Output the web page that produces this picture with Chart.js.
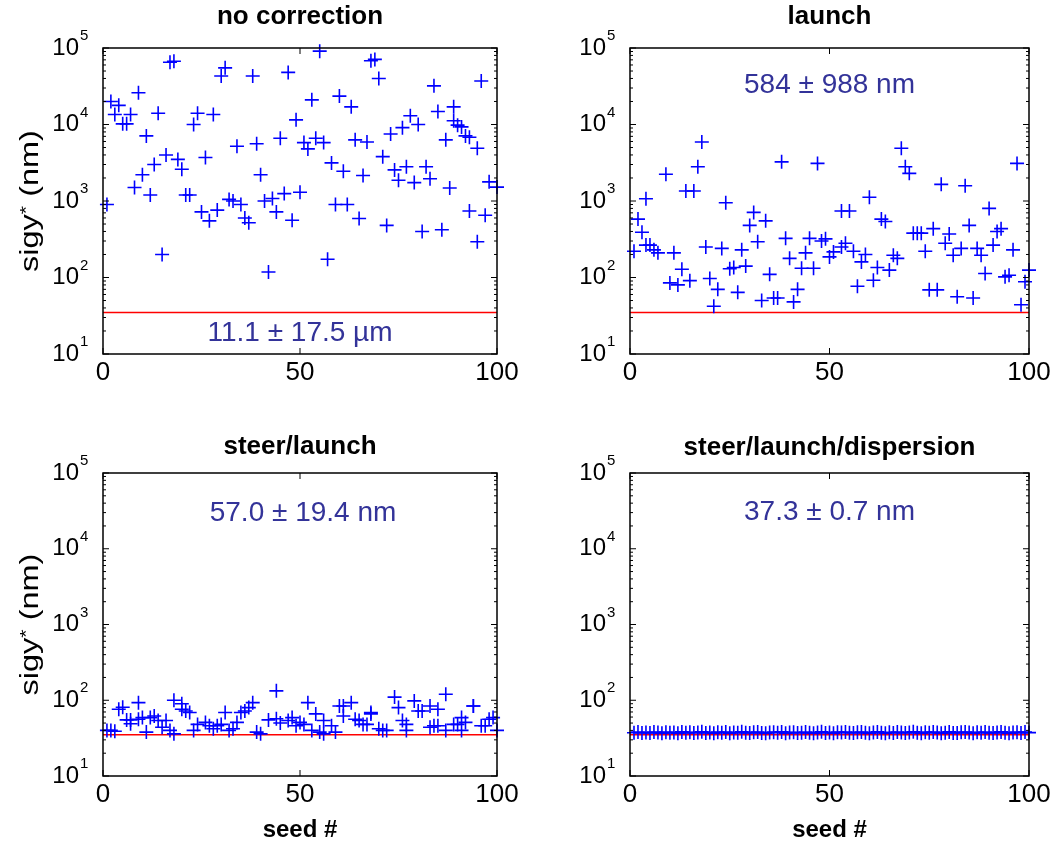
<!DOCTYPE html>
<html>
<head>
<meta charset="utf-8">
<script src="https://cdn.jsdelivr.net/npm/chart.js@4/dist/chart.umd.min.js"></script>
<style>
  body { margin: 0; background: #fff; }
  #wrap { position: relative; width: 1062px; height: 851px; background: #fff; }
  canvas { position: absolute; }
</style>
</head>
<body>
<div id="wrap">
  <canvas id="cNoCorr" width="531" height="425" style="left:0;top:0"></canvas>
  <canvas id="cLaunch" width="531" height="425" style="left:531px;top:0"></canvas>
  <canvas id="cSteer" width="531" height="426" style="left:0;top:425px"></canvas>
  <canvas id="cDisp" width="531" height="426" style="left:531px;top:425px"></canvas>
</div>
<script>
// ---- data (sigy* in nm vs seed #) ----
const TARGET_NM = 35;
const X_RANGE = [0, 100];
const X_TICKS = [0, 50, 100];
const DECADES = [1, 2, 3, 4, 5];

const noCorrSeed = [1,2,3,4,5,6,7,8,9,10,11,12,13,14,15,16,17,18,19,20,21,22,23,24,25,26,27,28,29,30,
  31,32,33,34,35,36,37,38,39,40,41,42,43,44,45,46,47,48,49,50,51,52,53,54,55,56,57,58,59,60,
  61,62,63,64,65,66,67,68,69,70,71,72,73,74,75,76,77,78,79,80,81,82,83,84,85,86,87,88,89,89,
  90,91,92,93,93,95,95,96,97,98,100];
const noCorrSigy = [900,20000,13500,17800,10200,10200,13500,1500,26000,2200,7100,1200,3000,14000,200,4000,65000,67000,3500,2600,
  1200,1200,10000,14000,720,3700,550,13500,760,43000,55000,1050,1000,5200,900,600,520,43000,5600,2200,
  1000,118,1080,720,6600,1250,48000,560,11500,1300,5800,4800,21000,6600,91000,5800,173,3150,900,23500,
  2450,900,17000,6300,590,2150,5900,68000,71000,40000,3800,480,7500,2550,1870,9100,2800,13000,1740,10000,
  400,2800,1950,32000,14800,420,6300,1480,11200,17000,9800,9300,7100,6800,740,4900,293,37000,650,1780,1520];

const launchSeed = [1,2,3,4,4,5,6,7,9,10,11,12,13,14,15,16,17,18,19,20,21,22,23,24,25,26,27,28,29,30,
  31,32,33,34,35,36,37,38,39,40,41,42,43,44,45,46,47,48,49,50,51,53,53,54,55,56,57,58,59,60,
  61,62,63,64,65,66,67,68,69,70,71,72,73,74,75,76,77,78,79,80,81,82,83,84,85,86,87,88,89,90,
  91,92,93,94,95,96,97,98,99,100];
const launchSigy = [220,580,390,1070,265,265,230,210,2240,85,210,80,128,1350,91,1350,2800,5900,250,97,
  42,70,240,950,130,135,64,230,141,480,710,293,50,550,110,54,54,3250,325,178,
  48,70,132,210,325,132,3100,300,320,186,216,740,250,280,740,220,77,160,200,1120,
  92,135,580,540,125,195,178,4900,2800,2300,380,380,380,220,69,435,69,1650,280,370,
  195,56,240,1580,480,54,240,195,113,800,265,400,435,102,107,230,3100,44,88,125];

const steerSeed = [1,2,3,4,5,6,7,7,9,9,10,11,12,13,14,15,16,17,18,18,20,20,21,22,23,24,26,27,28,29,
  30,31,32,33,34,35,36,37,38,39,40,42,44,44,45,47,48,49,50,51,52,53,54,55,56,56,58,59,60,61,
  61,63,64,65,66,67,68,68,70,71,72,74,75,76,77,77,79,80,81,83,83,84,85,85,87,87,89,90,91,91,
  92,94,94,96,97,98,99,100];
const steerSigy = [40,40,39,76,81,55,55,49,56,93,59,38,59,62,54,44,54,40,100,36,90,76,72,69,40,48,51,46,42,46,
  48,69,40,42,51,69,72,80,93,38,36,55,133,57,50,54,59,46,51,48,93,40,66,38,36,54,46,38,84,62,
  84,93,56,54,48,48,69,66,42,40,40,110,80,54,40,48,98,72,72,44,84,46,76,46,40,120,48,48,59,40,
  51,84,84,46,46,56,59,40];

const dispSeed = [1,2,3,4,5,6,7,8,9,10,11,12,13,14,15,16,17,18,19,20,21,22,23,24,25,26,27,28,29,30,
  31,32,33,34,35,36,37,38,39,40,41,42,43,44,45,46,47,48,49,50,51,52,53,54,55,56,57,58,59,60,
  61,62,63,64,65,66,67,68,69,70,71,72,73,74,75,76,77,78,79,80,81,82,83,84,85,86,87,88,89,90,
  91,92,93,94,95,96,97,98,99,100];
const dispSigy = [37.2,38.1,36.9,37.5,37.0,38.0,37.4,36.8,37.9,37.3,37.6,36.7,38.2,37.1,37.8,36.9,37.5,38.3,37.0,37.4,
  36.6,37.9,37.2,38.0,36.8,37.6,37.3,38.4,37.1,36.9,37.7,38.1,37.0,36.7,37.5,37.9,37.2,38.2,36.8,37.4,
  37.8,36.9,37.3,38.0,37.1,36.6,37.6,38.3,37.0,37.5,36.8,37.9,37.4,38.1,37.2,36.9,37.7,38.0,37.1,36.7,
  37.5,38.2,37.3,36.8,37.8,37.0,38.1,37.4,36.9,37.6,38.3,37.2,36.7,37.9,37.1,38.0,37.5,36.8,37.3,38.2,
  37.0,36.9,37.7,38.1,37.4,36.6,37.8,37.2,38.0,37.1,36.9,37.6,38.2,37.3,36.8,37.5,37.9,37.0,38.1,37.4];

const panelTitles = ['no correction', 'launch', 'steer/launch', 'steer/launch/dispersion'];
const panelStats = ['11.1 \u00b1 17.5 \u00b5m', '584 \u00b1 988 nm', '57.0 \u00b1 19.4 nm', '37.3 \u00b1 0.7 nm'];

// ---- drawing ----
const FONT = '"Liberation Sans", Arial, sans-serif';
Chart.defaults.font.family = FONT;
Chart.defaults.color = '#000';

const framePlugin = {
  id: 'frame',
  afterDraw(chart) {
    const o = chart.options.plugins.frame;
    const ctx = chart.ctx, a = chart.chartArea;
    const xs = chart.scales.x, ys = chart.scales.y;
    ctx.save();
    ctx.strokeStyle = '#000';
    ctx.lineWidth = 1.5;
    ctx.strokeRect(a.left, a.top, a.right - a.left, a.bottom - a.top);

    ctx.beginPath();
    DECADES.forEach(e => {
      const y = ys.getPixelForValue(Math.pow(10, e));
      ctx.moveTo(a.left, y); ctx.lineTo(a.left + 6, y);
      ctx.moveTo(a.right, y); ctx.lineTo(a.right - 6, y);
      if (e < 5) {
        for (let m = 2; m <= 9; m++) {
          const ym = ys.getPixelForValue(m * Math.pow(10, e));
          ctx.moveTo(a.left, ym); ctx.lineTo(a.left + 3, ym);
          ctx.moveTo(a.right, ym); ctx.lineTo(a.right - 3, ym);
        }
      }
    });
    X_TICKS.forEach(v => {
      const x = xs.getPixelForValue(v);
      ctx.moveTo(x, a.top); ctx.lineTo(x, a.top + 6);
      ctx.moveTo(x, a.bottom); ctx.lineTo(x, a.bottom - 6);
    });
    ctx.lineWidth = 1;
    ctx.stroke();

    // y tick labels 10^n
    ctx.fillStyle = '#000';
    DECADES.forEach(e => {
      const y = ys.getPixelForValue(Math.pow(10, e));
      ctx.font = '24px ' + FONT;
      ctx.textAlign = 'right';
      ctx.textBaseline = 'middle';
      ctx.fillText('10', a.left - 24, y);
      ctx.font = '15px ' + FONT;
      ctx.textAlign = 'left';
      ctx.textBaseline = 'alphabetic';
      ctx.fillText(String(e), a.left - 23, y - 8);
    });

    // title
    ctx.font = 'bold 26px ' + FONT;
    ctx.textAlign = 'center';
    ctx.textBaseline = 'middle';
    ctx.fillText(o.title, (a.left + a.right) / 2, o.titleY);

    // stat annotation
    ctx.font = '28px ' + FONT;
    ctx.fillStyle = '#333399';
    ctx.fillText(o.stat, (a.left + a.right) / 2 + o.statDx, o.statY);

    ctx.fillStyle = '#000';
    if (o.yLabel) {
      ctx.save();
      ctx.translate(31, (a.top + a.bottom) / 2);
      ctx.rotate(-Math.PI / 2);
      ctx.scale(1.25, 1);
      ctx.font = '26px ' + FONT;
      const w1 = ctx.measureText('sigy').width;
      const w3 = ctx.measureText(' (nm)').width;
      ctx.font = '17px ' + FONT;
      const w2 = ctx.measureText('*').width;
      let x0 = -(w1 + w2 + w3) / 2;
      ctx.textAlign = 'left';
      ctx.textBaseline = 'middle';
      ctx.font = '26px ' + FONT;
      ctx.fillText('sigy', x0, 0);
      ctx.font = '17px ' + FONT;
      ctx.fillText('*', x0 + w1, -4);
      ctx.font = '26px ' + FONT;
      ctx.fillText(' (nm)', x0 + w1 + w2, 0);
      ctx.restore();
    }
    if (o.xLabel) {
      ctx.font = 'bold 24px ' + FONT;
      ctx.textAlign = 'center';
      ctx.textBaseline = 'middle';
      ctx.fillText('seed #', (a.left + a.right) / 2, o.xLabelY);
    }
    ctx.restore();
  }
};

function makePanel(id, seeds, sigy, idx, geo) {
  const pts = seeds.map((s, i) => ({ x: s, y: sigy[i] }));
  new Chart(document.getElementById(id), {
    type: 'scatter',
    data: {
      datasets: [
        {
          type: 'line',
          data: [{ x: X_RANGE[0], y: TARGET_NM }, { x: X_RANGE[1], y: TARGET_NM }],
          borderColor: '#ff0000',
          borderWidth: 1.5,
          pointRadius: 0,
          order: 2
        },
        {
          data: pts,
          pointStyle: 'cross',
          pointRadius: 7,
          borderColor: '#0000ff',
          backgroundColor: '#0000ff',
          borderWidth: 1.6,
          clip: false,
          order: 1
        }
      ]
    },
    options: {
      responsive: false,
      devicePixelRatio: 1,
      animation: false,
      layout: { autoPadding: false, padding: { top: geo.top, right: geo.right, left: 0, bottom: 0 } },
      scales: {
        x: {
          type: 'linear',
          min: X_RANGE[0], max: X_RANGE[1],
          ticks: { stepSize: 50, font: { size: 26 }, color: '#000', padding: 3, maxRotation: 0 },
          grid: { display: false, drawTicks: false },
          border: { display: false },
          afterFit: s => { s.height = geo.xh; }
        },
        y: {
          type: 'logarithmic',
          min: 10, max: 100000,
          ticks: { display: false },
          grid: { display: false, drawTicks: false },
          border: { display: false },
          afterFit: s => { s.width = geo.yw; }
        }
      },
      plugins: {
        legend: { display: false },
        tooltip: { enabled: false },
        title: { display: false },
        frame: {
          title: panelTitles[idx],
          titleY: geo.titleY,
          stat: panelStats[idx],
          statY: geo.statY,
          statDx: geo.statDx,
          yLabel: geo.yLabel,
          xLabel: geo.xLabel,
          xLabelY: geo.xLabelY
        }
      }
    },
    plugins: [framePlugin]
  });
}

makePanel('cNoCorr', noCorrSeed, noCorrSigy, 0,
  { top: 48, right: 34, xh: 71, yw: 103, titleY: 17, statY: 333, statDx: 0, yLabel: true, xLabel: false });
makePanel('cLaunch', launchSeed, launchSigy, 1,
  { top: 48, right: 33, xh: 71, yw: 99, titleY: 17, statY: 85, statDx: 0, yLabel: false, xLabel: false });
makePanel('cSteer', steerSeed, steerSigy, 2,
  { top: 48, right: 34, xh: 75, yw: 103, titleY: 22, statY: 88, statDx: 3, yLabel: true, xLabel: true, xLabelY: 405 });
makePanel('cDisp', dispSeed, dispSigy, 3,
  { top: 48, right: 33, xh: 75, yw: 99, titleY: 23, statY: 87, statDx: 0, yLabel: false, xLabel: true, xLabelY: 405 });
</script>
</body>
</html>
